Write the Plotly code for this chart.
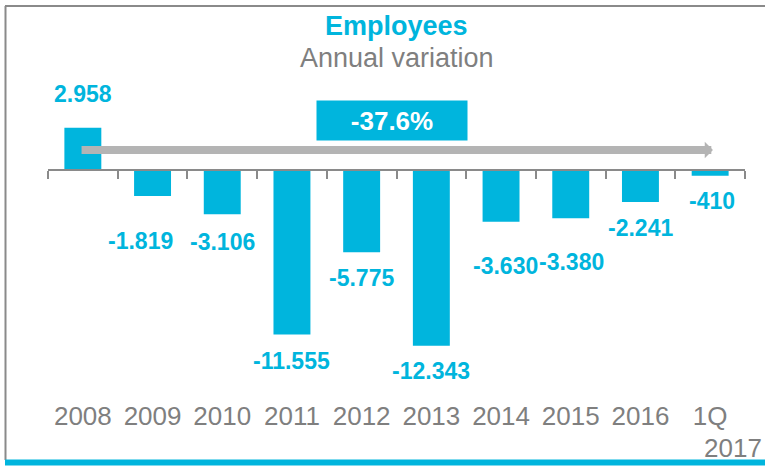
import plotly.graph_objects as go

# --- data -------------------------------------------------------------
years = ["2008", "2009", "2010", "2011", "2012", "2013", "2014", "2015", "2016", "1Q"]
employees_change = [2958, -1819, -3106, -11555, -5775, -12343, -3630, -3380, -2241, -410]
value_labels = ["2.958", "-1.819", "-3.106", "-11.555", "-5.775", "-12.343",
                "-3.630", "-3.380", "-2.241", "-410"]
total_change_label = "-37.6%"

# --- styling ----------------------------------------------------------
CYAN = "#00B5DD"
GREY_TEXT = "#7F7F7F"
GREY_LINE = "#8A8A8A"
ARROW_GREY = "#B4B4B4"
FONT = "Liberation Sans, Arial, sans-serif"

W, H = 765, 466
ML, MR, MT, MB = 48, 20, 60, 66
PLOT_H = H - MT - MB
PLOT_W = W - ML - MR

# distance (px) between a bar's end and its label centre, and sideways nudges
label_gap = [34, 45, 28, 26, 26, 25, 44, 44, 26, 25]
label_nudge = [0, -12, 0, 0, 0, 0, 4, 1, 0, 2]

y_range = [-16151, 7724]
x_range = [-0.5, len(years) - 0.5]
zero_pos = (0 - y_range[0]) / (y_range[1] - y_range[0])


def py(pixel_y):
    """pixel row (from top of page) -> paper y"""
    return (H - MB - pixel_y) / PLOT_H


def px(pixel_x):
    """pixel column -> paper x"""
    return (pixel_x - ML) / PLOT_W


xs = list(range(len(years)))

fig = go.Figure()
fig.add_trace(go.Bar(
    x=xs, y=employees_change, width=0.53,
    marker=dict(color=CYAN, line=dict(width=0)),
    hoverinfo="skip", showlegend=False,
))
# invisible companion trace so the category-label axis is drawn
fig.add_trace(go.Scatter(
    x=xs, y=employees_change, xaxis="x2", yaxis="y", mode="markers",
    marker=dict(opacity=0), hoverinfo="skip", showlegend=False,
))

annotations = []

# value labels
for i, (v, lab) in enumerate(zip(employees_change, value_labels)):
    shift = label_gap[i] if v > 0 else -label_gap[i]
    annotations.append(dict(
        x=i, y=v, xref="x", yref="y", text=f"<b>{lab}</b>", showarrow=False,
        yanchor="middle", xanchor="center", yshift=shift, xshift=label_nudge[i],
        font=dict(family=FONT, size=23, color=CYAN),
    ))

# trend arrow spanning the period
annotations.append(dict(
    x=9.04, y=1404, ax=-0.04, ay=1404, xref="x", yref="y", axref="x", ayref="y",
    text="", showarrow=True, arrowhead=1, arrowsize=0.34, arrowwidth=8,
    arrowcolor=ARROW_GREY, standoff=0,
))

# total change box
annotations.append(dict(
    x=px(391.7), y=py(120), xref="paper", yref="paper",
    text=f"<b>{total_change_label}</b>", showarrow=False,
    width=150, height=39, bgcolor=CYAN, borderpad=0,
    xanchor="center", yanchor="middle",
    font=dict(family=FONT, size=26, color="white"),
))

# titles
annotations.append(dict(
    x=0.5, y=py(26.5), xref="paper", yref="paper", text="<b>Employees</b>",
    showarrow=False, xanchor="center", yanchor="middle",
    font=dict(family=FONT, size=27, color=CYAN),
))
annotations.append(dict(
    x=0.5, y=py(58.3), xref="paper", yref="paper", text="Annual variation",
    showarrow=False, xanchor="center", yanchor="middle",
    font=dict(family=FONT, size=27, color=GREY_TEXT),
))

# second line of the last category label
annotations.append(dict(
    x=9, y=py(448), xref="x", yref="paper", text="2017", showarrow=False,
    xanchor="center", yanchor="middle", xshift=23,
    font=dict(family=FONT, size=26, color=GREY_TEXT),
))

shapes = [
    # frame: left and top edges
    dict(type="line", xref="paper", yref="paper", x0=px(5.5), x1=px(5.5),
         y0=py(6), y1=py(460), line=dict(color=GREY_LINE, width=2)),
    dict(type="line", xref="paper", yref="paper", x0=px(5), x1=px(766),
         y0=py(6), y1=py(6), line=dict(color=GREY_LINE, width=2)),
    # cyan footer band
    dict(type="rect", xref="paper", yref="paper", x0=px(5), x1=px(766),
         y0=py(459.5), y1=py(465.5), fillcolor=CYAN, line=dict(width=0)),
]

fig.update_layout(
    width=W, height=H,
    margin=dict(l=ML, r=MR, t=MT, b=MB),
    paper_bgcolor="white", plot_bgcolor="white",
    font=dict(family=FONT, color=GREY_TEXT),
    bargap=0.47,
    annotations=annotations,
    shapes=shapes,
    xaxis=dict(
        range=x_range, anchor="free", position=zero_pos,
        tickmode="array", tickvals=[i - 0.5 for i in range(len(years) + 1)],
        ticks="outside", ticklen=8, tickwidth=1.5, tickcolor=GREY_LINE,
        showticklabels=False, showline=True, linecolor=GREY_LINE, linewidth=1.5,
        showgrid=False, zeroline=False, fixedrange=True,
    ),
    xaxis2=dict(
        range=x_range, overlaying="x", anchor="free", position=py(398),
        side="bottom", tickmode="array", tickvals=xs, ticktext=years, ticks="",
        tickfont=dict(family=FONT, size=26, color=GREY_TEXT),
        showline=False, showgrid=False, zeroline=False, fixedrange=True,
    ),
    yaxis=dict(range=y_range, visible=False, showgrid=False, zeroline=False,
               fixedrange=True),
)

fig.write_html("out.html")
